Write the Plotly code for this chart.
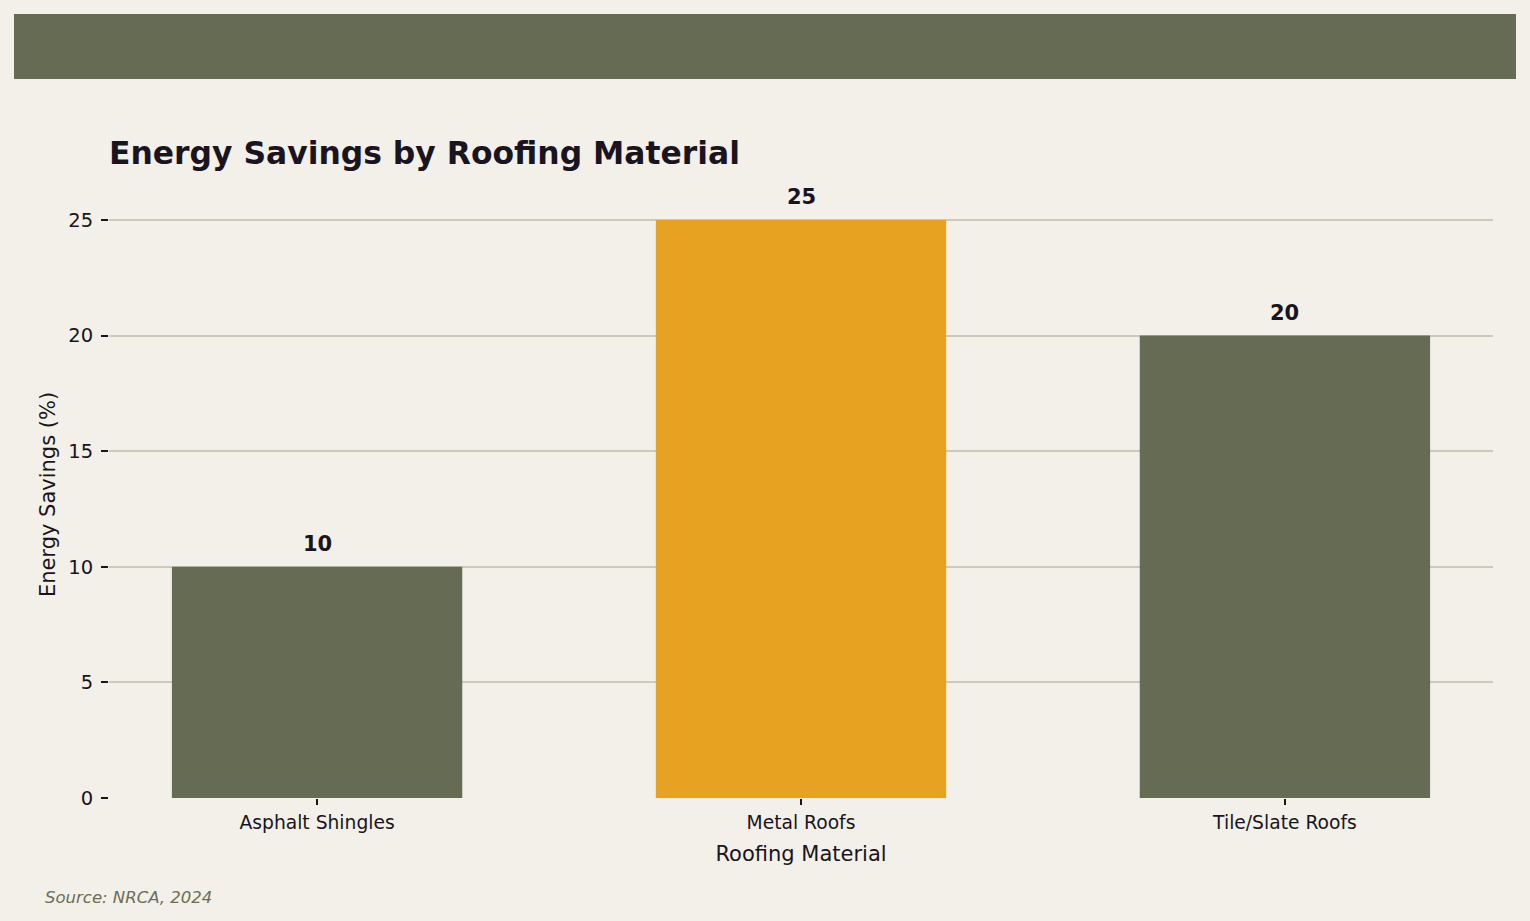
import plotly.graph_objects as go

categories = ["Asphalt Shingles", "Metal Roofs", "Tile/Slate Roofs"]
savings = [10, 25, 20]
bar_colors = ["#666B53", "#E8A222", "#666B53"]
y_ticks = [0, 5, 10, 15, 20, 25]

BG = "#F2F0E8"
TXT = "#1A1420"
FONT = "DejaVu Sans"

W, H = 1530, 921
ml, mr, mt, mb = 109, 37, 191, 123
pw = W - ml - mr
ph = H - mt - mb

def px_x(x):
    return (x - ml) / pw

def px_y(y):
    return (H - mb - y) / ph

fig = go.Figure()
fig.add_trace(go.Bar(
    x=categories, y=savings, width=0.6,
    marker=dict(color=bar_colors, line=dict(width=0)),
    hoverinfo="skip",
))

for c, v in zip(categories, savings):
    fig.add_annotation(x=c, y=v, text=f"<b>{v}</b>", showarrow=False,
                       xanchor="center", yanchor="bottom", yshift=9,
                       font=dict(family=FONT, size=21, color=TXT))

fig.add_shape(type="rect", xref="paper", yref="paper",
              x0=px_x(14), x1=px_x(1516), y0=px_y(79), y1=px_y(14),
              fillcolor="#666B53", line=dict(width=0), layer="below")

fig.add_annotation(text="<b>Energy Savings by Roofing Material</b>", xref="paper", yref="paper",
                   x=px_x(107), y=px_y(153), xanchor="left", yanchor="middle",
                   showarrow=False, font=dict(family=FONT, size=31.4, color=TXT))

fig.add_annotation(text="<i>Source: NRCA, 2024</i>", xref="paper", yref="paper",
                   x=px_x(43), y=px_y(897), xanchor="left", yanchor="middle",
                   showarrow=False, font=dict(family=FONT, size=16.5, color="#6B6E58"))

fig.update_layout(
    width=W, height=H,
    margin=dict(l=ml, r=mr, t=mt, b=mb, pad=0),
    paper_bgcolor=BG, plot_bgcolor=BG,
    showlegend=False,
    font=dict(family=FONT, color=TXT),
)
fig.update_xaxes(
    range=[-0.43, 2.43], showgrid=False, zeroline=False, showline=False,
    ticks="outside", ticklen=6, tickcolor=TXT, tickwidth=1.5, ticklabelstandoff=2,
    tickfont=dict(family=FONT, size=18.7, color=TXT),
    title=dict(text="Roofing Material", font=dict(family=FONT, size=21, color=TXT), standoff=13),
)
fig.update_yaxes(
    range=[0, 26.25], tickvals=y_ticks, showgrid=True, gridcolor="#CCCABA", gridwidth=1.5,
    zeroline=False, showline=False,
    ticks="outside", ticklen=7, tickcolor=TXT, tickwidth=1.5, ticklabelstandoff=4,
    tickfont=dict(family=FONT, size=19.5, color=TXT),
    title=dict(text="Energy Savings (%)", font=dict(family=FONT, size=21, color=TXT), standoff=6),
)

fig.write_html("out.html")
